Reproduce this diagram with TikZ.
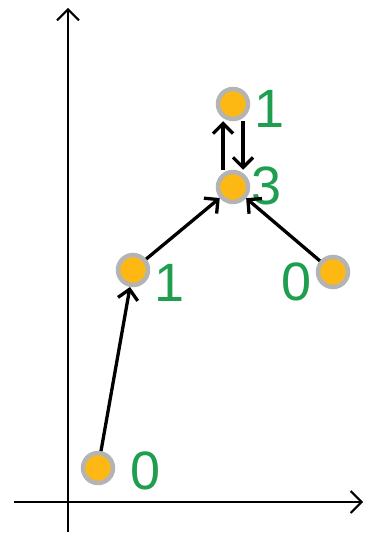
\documentclass[tikz,border=0pt]{standalone}
\usepackage{fontspec}
\setmainfont{Liberation Sans}
\usetikzlibrary{arrows.meta}
\definecolor{dotfill}{HTML}{FDB813}
\definecolor{dotring}{HTML}{B4B4B4}
\definecolor{valgreen}{HTML}{1E9E4E}
\begin{document}
\begin{tikzpicture}[x=1pt,y=-1pt,
  dot/.style={circle,fill=dotfill,draw=dotring,line width=4.5pt,minimum size=30pt,inner sep=0pt},
  val/.style={text=valgreen,font=\fontsize{54}{54}\selectfont,inner sep=0pt},
  axis/.style={line width=2pt,-{Straight Barb[length=11pt,width=22pt,line width=2pt]}},
  link/.style={line width=3.3pt,-{Straight Barb[length=10pt,width=20pt,line width=3.3pt]}}]
  \useasboundingbox (0,0) rectangle (366,537);
  % axes
  \coordinate (yb) at (68,532);
  \coordinate (yt) at (68,8);
  \coordinate (xl) at (14,502);
  \coordinate (xr) at (363,502);
  \draw[axis] (yb) -- (yt);
  \draw[axis] (xl) -- (xr);
  % vertices
  \node[dot] (a) at (98,468) {};
  \node[dot] (b) at (133,270) {};
  \node[dot] (c) at (233,187) {};
  \node[dot] (d) at (233,104) {};
  \node[dot] (e) at (333,272) {};
  % values
  \node[val] (la) at (146,471) {0};
  \node[val] (lb) at (170,283) {1};
  \node[val] (lc) at (267,186) {3};
  \node[val] (ld) at (270,109) {1};
  \node[val] (le) at (297,282) {0};
  % edges
  \draw[link] (a) -- (b);
  \draw[link] (b) -- (c);
  \draw[link] (e) -- (c);
  \draw[link] ([xshift=-10pt]c.north) -- ([xshift=-10pt]d.south);
  \draw[link] ([xshift=10pt]d.south) -- ([xshift=10pt]c.north);
\end{tikzpicture}
\end{document}
